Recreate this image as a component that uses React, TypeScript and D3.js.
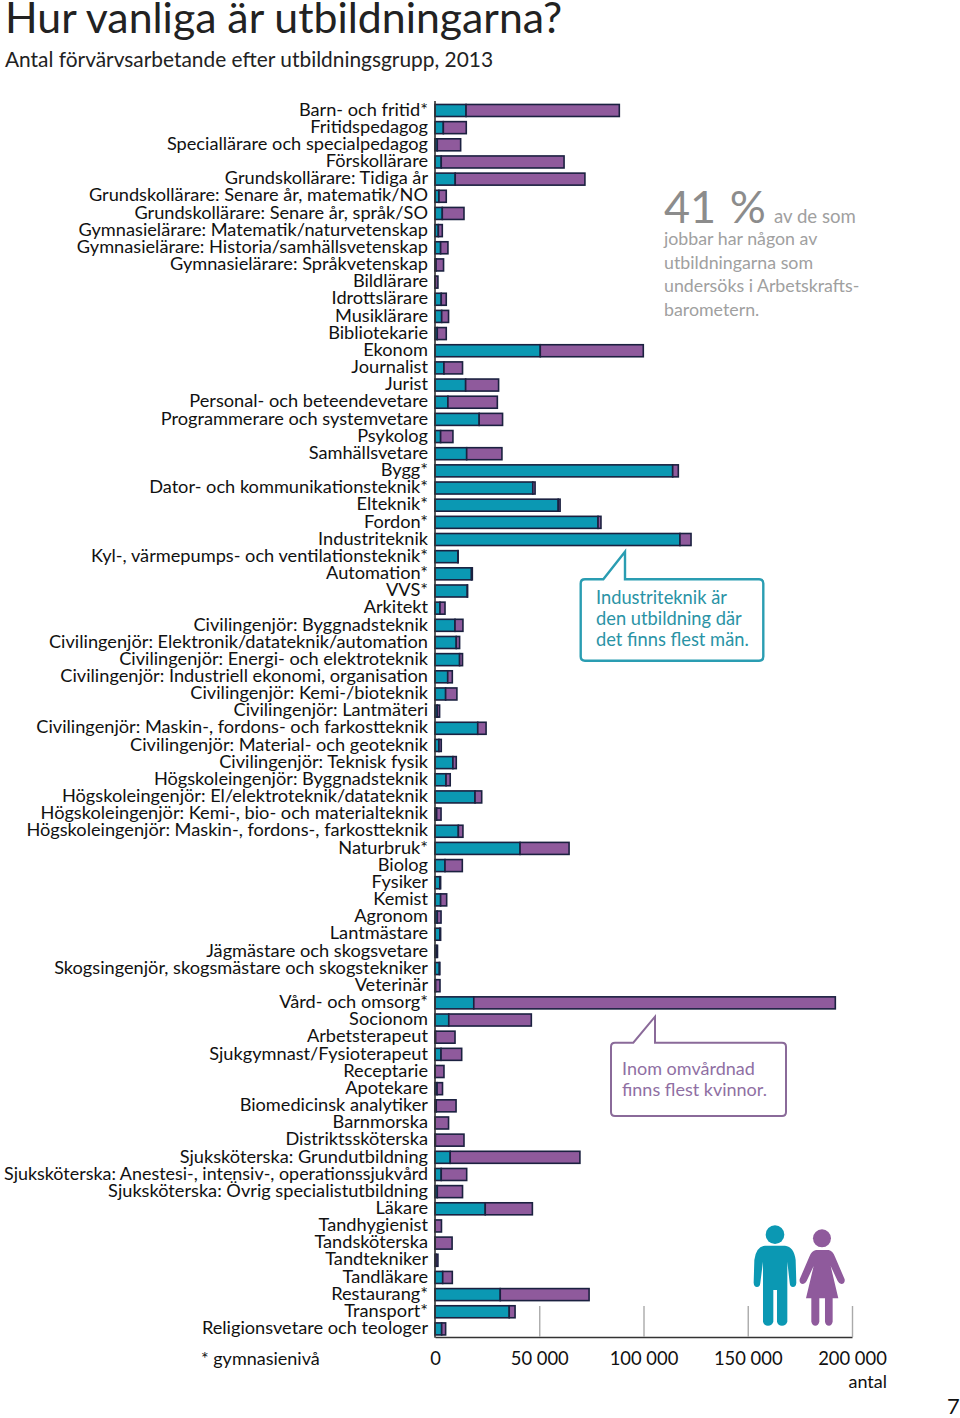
import React, { useRef, useEffect } from 'react';
import * as d3 from 'd3';

const categories = [
  'Barn- och fritid*', 'Fritidspedagog', 'Speciallärare och specialpedagog', 'Förskollärare',
  'Grundskollärare: Tidiga år', 'Grundskollärare: Senare år, matematik/NO', 'Grundskollärare: Senare år, språk/SO',
  'Gymnasielärare: Matematik/naturvetenskap', 'Gymnasielärare: Historia/samhällsvetenskap', 'Gymnasielärare: Språkvetenskap',
  'Bildlärare', 'Idrottslärare', 'Musiklärare', 'Bibliotekarie', 'Ekonom', 'Journalist', 'Jurist',
  'Personal- och beteendevetare', 'Programmerare och systemvetare', 'Psykolog', 'Samhällsvetare',
  'Bygg*', 'Dator- och kommunikationsteknik*', 'Elteknik*', 'Fordon*', 'Industriteknik',
  'Kyl-, värmepumps- och ventilationsteknik*', 'Automation*', 'VVS*', 'Arkitekt',
  'Civilingenjör: Byggnadsteknik', 'Civilingenjör: Elektronik/datateknik/automation', 'Civilingenjör: Energi- och elektroteknik',
  'Civilingenjör: Industriell ekonomi, organisation', 'Civilingenjör: Kemi-/bioteknik', 'Civilingenjör: Lantmäteri',
  'Civilingenjör: Maskin-, fordons- och farkostteknik', 'Civilingenjör: Material- och geoteknik', 'Civilingenjör: Teknisk fysik',
  'Högskoleingenjör: Byggnadsteknik', 'Högskoleingenjör: El/elektroteknik/datateknik', 'Högskoleingenjör: Kemi-, bio- och materialteknik',
  'Högskoleingenjör: Maskin-, fordons-, farkostteknik', 'Naturbruk*', 'Biolog', 'Fysiker', 'Kemist', 'Agronom', 'Lantmästare',
  'Jägmästare och skogsvetare', 'Skogsingenjör, skogsmästare och skogstekniker', 'Veterinär', 'Vård- och omsorg*', 'Socionom',
  'Arbetsterapeut', 'Sjukgymnast/Fysioterapeut', 'Receptarie', 'Apotekare', 'Biomedicinsk analytiker', 'Barnmorska',
  'Distriktssköterska', 'Sjuksköterska: Grundutbildning', 'Sjuksköterska: Anestesi-, intensiv-, operationssjukvård',
  'Sjuksköterska: Övrig specialistutbildning', 'Läkare', 'Tandhygienist', 'Tandsköterska', 'Tandtekniker', 'Tandläkare',
  'Restaurang*', 'Transport*', 'Religionsvetare och teologer',
];

// thousands of employed
const men = [
  14.9, 4.0, 1.1, 3.0, 9.7, 1.9, 3.5, 1.6, 2.7, 0.5, 0.2, 3.0, 3.2, 1.1, 50.5, 4.3, 14.7,
  6.2, 21.2, 2.7, 15.2, 114, 46.9, 59.1, 78.2, 117.5, 11.0, 17.5, 15.5, 2.4,
  9.6, 10.2, 11.8, 6.1, 5.1, 1.1, 20.5, 1.9, 8.6, 5.3, 19.2, 0.8, 11.2, 40.8, 4.8, 2.3, 2.7, 1.1, 2.4,
  0.8, 2.1, 0.3, 18.6, 6.6, 0.3, 2.9, 0.1, 1.0, 0.6, 0, 0.2, 7.3, 3.0, 1.1, 24.1, 0, 0.1, 0.5, 3.7, 31.3, 35.6, 3.2,
];
const women = [
  73.5, 11.0, 11.2, 58.9, 62.2, 3.5, 10.4, 1.9, 3.5, 3.6, 1.2, 2.4, 3.3, 4.3, 49.4, 8.9, 15.8,
  23.7, 11.2, 5.9, 16.9, 2.7, 1.1, 0.9, 1.4, 5.3, 0.1, 0.4, 0.1, 2.4,
  3.8, 1.6, 1.4, 2.2, 5.4, 1.1, 4.0, 1.1, 1.6, 2.0, 3.2, 2.1, 2.2, 23.5, 8.3, 0.4, 2.9, 1.8, 0.3,
  0.4, 0.2, 2.1, 173.4, 39.6, 9.3, 9.9, 4.2, 2.6, 9.5, 6.5, 13.7, 62.2, 12.2, 12.1, 22.6, 3.1, 8.1, 0.9, 4.6, 42.6, 2.8, 1.9,
];
const xTicks = [0, 50000, 100000, 150000, 200000];
const FONT = 'Lato, "Open Sans", sans-serif';
const TEAL = '#0b98b3';
const PURPLE = '#8f5a9c';
const EDGE = '#1b2140';

const App: React.FC = () => {
  const chartRef = useRef<SVGGElement>(null);

  useEffect(() => {
    if (!chartRef.current) return;
    const g = d3.select(chartRef.current);
    g.selectAll('*').remove();

    const x = d3.scaleLinear().domain([0, 200000]).range([435, 852]);
    const y = d3.scaleBand().domain(categories).range([101.9, 1337.5]).paddingInner(0.3).paddingOuter(0.15);
    const rows = categories.map((c, i) => ({ c, men: men[i] * 1000, women: women[i] * 1000 }));
    const stacked = d3.stack<any>().keys(['men', 'women'])(rows);

    // Bars
    stacked.forEach((layer, li) => {
      g.append('g')
        .selectAll('rect')
        .data(layer)
        .enter()
        .append('rect')
        .attr('x', d => x(d[0]))
        .attr('y', d => y(d.data.c)!)
        .attr('width', d => x(d[1]) - x(d[0]))
        .attr('height', y.bandwidth())
        .attr('fill', li === 0 ? TEAL : PURPLE)
        .attr('stroke', EDGE)
        .attr('stroke-width', 1.6);
    });

    // Category labels, the longest one is squeezed to stay on the page
    g.append('g')
      .selectAll('text')
      .data(categories)
      .enter()
      .append('text')
      .attr('x', 428)
      .attr('y', d => y(d)! + y.bandwidth() / 2 + 5.2)
      .attr('text-anchor', 'end')
      .attr('font-size', 18.2)
      .attr('fill', '#111')
      .text(d => d)
      .each(function () {
        if (this.getComputedTextLength() > 424) {
          d3.select(this).attr('textLength', 424).attr('lengthAdjust', 'spacingAndGlyphs');
        }
      });

    // Axis
    const axis = g.append('g')
      .attr('transform', 'translate(0,1337)')
      .call(d3.axisBottom(x).tickValues(xTicks).tickSizeInner(-31).tickSizeOuter(0)
        .tickFormat(d => d3.format(',')(d as number).replace(',', ' ')));
    axis.select('.domain').attr('stroke', '#333').attr('stroke-width', 1.6);
    axis.selectAll('.tick line').attr('stroke', '#aaa').attr('stroke-width', 1.4);
    axis.selectAll('.tick').filter((d: any) => d === 0).select('line').remove();
    axis.selectAll('.tick text')
      .attr('y', 22).attr('dy', '0.32em')
      .attr('font-size', 18.4).attr('font-family', FONT).attr('fill', '#111');

    g.append('line')
      .attr('x1', x(0)).attr('x2', x(0)).attr('y1', 101).attr('y2', 1337.8)
      .attr('stroke', '#333').attr('stroke-width', 1.6);
  }, []);

  return (
    <svg width={960} height={1418} style={{ position: 'absolute', top: 0, left: 0 }} fontFamily={FONT}>
      <rect width={960} height={1418} fill="#fff" />
      <text x={5} y={33} fontSize={42.8} fill="#222">Hur vanliga är utbildningarna?</text>
      <text x={5} y={67} fontSize={20.9} fill="#222">Antal förvärvsarbetande efter utbildningsgrupp, 2013</text>

      <g ref={chartRef} />

      <text x={201} y={1365} fontSize={18} fill="#111">* gymnasienivå</text>
      <text x={887} y={1388} fontSize={18} textAnchor="end" fill="#111">antal</text>
      <text x={947} y={1414} fontSize={22} fill="#111">7</text>

      <text x={664} y={223} fontSize={45} fill="#8c8c8c" wordSpacing={2}>41 %</text>
      <text x={774} y={223} fontSize={18.6} fill="#a0a0a0">av de som</text>
      {['jobbar har någon av', 'utbildningarna som', 'undersöks i Arbetskrafts-', 'barometern.'].map((t, i) => (
        <text key={t} x={664} y={245 + i * 23.5} fontSize={17.8} fill="#a0a0a0">{t}</text>
      ))}

      <path d="M586 579.3H603.3L625 551.7V579.3H759Q763.3 579.3 763.3 583.5V656.5Q763.3 660.7 759 660.7H585Q580.7 660.7 580.7 656.5V583.5Q580.7 579.3 585 579.3Z"
        fill="#fff" stroke="#2a9db2" strokeWidth={2.4} />
      {['Industriteknik är', 'den utbildning där', 'det finns flest män.'].map((t, i) => (
        <text key={t} x={596} y={604 + i * 21} fontSize={18.3} fill="#2a93a5">{t}</text>
      ))}

      <path d="M615 1042.7H633.3L655 1016.7V1042.7H782Q786 1042.7 786 1046.7V1112Q786 1116 782 1116H615Q611 1116 611 1112V1046.7Q611 1042.7 615 1042.7Z"
        fill="#fff" stroke="#8a6a99" strokeWidth={2} />
      {['Inom omvårdnad', 'finns flest kvinnor.'].map((t, i) => (
        <text key={t} x={622} y={1075 + i * 21} fontSize={18} fill="#8f6fa3">{t}</text>
      ))}

      {/* man and woman pictograms */}
      <g transform="translate(700,1210) scale(0.3333)">
        <circle cx={225} cy={74} r={28} fill={TEAL} />
        <path fill={TEAL} d="M195 107H255Q282 110 287 150L289 218Q288 231 279 231Q270 231 269 218L262 155V335Q258 347 246 347Q234 347 231 335V240H220V335Q216 347 204 347Q192 347 189 335V155L181 218Q180 231 171 231Q162 231 161 218L163 150Q168 110 195 107Z" />
        <circle cx={366} cy={85} r={27} fill={PURPLE} />
        <path fill={PURPLE} d="M348 120H386Q398 122 405 140L434 208Q436 220 424 222Q418 222 413 213L392 168L415 265H398V335Q395 347 387 347Q377 347 375 335V265H358V335Q355 347 346 347Q337 347 334 335V265H318L341 168L320 213Q315 222 309 222Q297 220 299 208L328 140Q335 122 348 120Z" />
      </g>
    </svg>
  );
};

export default App;
